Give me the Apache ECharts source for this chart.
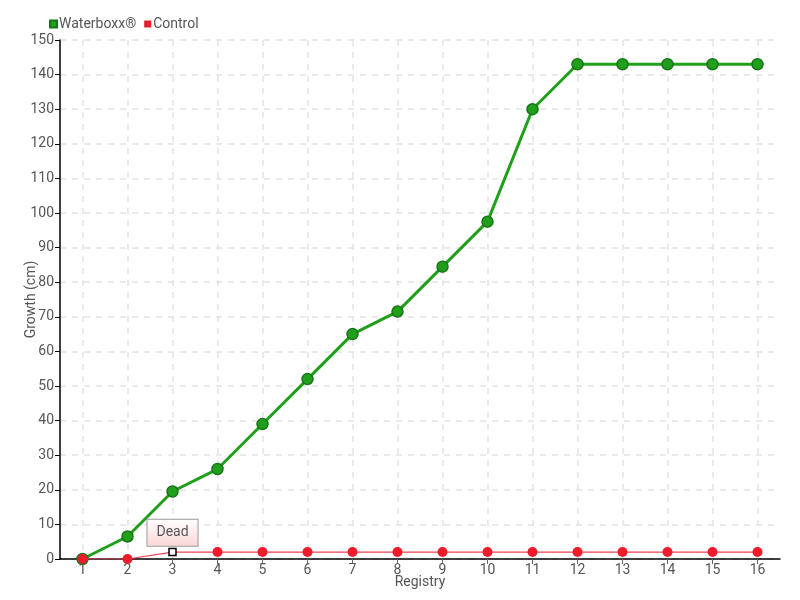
<!DOCTYPE html>
<html><head><meta charset="utf-8">
<script src="https://cdn.jsdelivr.net/npm/echarts@6/dist/echarts.min.js"></script>
<style>html,body{margin:0;padding:0;background:#fff}#c{width:800px;height:600px}</style>
</head><body><div id="c"></div>
<script>
const categories = [1,2,3,4,5,6,7,8,9,10,11,12,13,14,15,16];
const waterboxx = [0,6.5,19.5,26,39,52,65,71.5,84.5,97.5,130,143,143,143,143,143];
const control = [0,0,2,2,2,2,2,2,2,2,2,2,2,2,2,2];
const deadIndex = 2;
const deadLabel = 'Dead';

const FONT = 'Roboto,"Noto Sans",sans-serif';
const chart = echarts.init(document.getElementById('c'));
const wData = categories.map((c,i)=>[c, waterboxx[i]]);
const cData = categories.map((c,i)=>{
  if (i === deadIndex) {
    return {value:[c, control[i]], symbol:'rect', symbolSize:7,
      itemStyle:{color:'#fff', borderColor:'#000', borderWidth:1.5},
      label:{show:true, formatter: deadLabel, position:'top', distance:2,
        color:'#555', fontFamily:FONT, fontSize:14,
        backgroundColor:{type:'linear',x:0,y:0,x2:0,y2:1,colorStops:[{offset:0,color:'#fff'},{offset:1,color:'#fbd6d6'}]},
        borderColor:'#999', borderWidth:1, padding:[6,9,6,9]}};
  }
  return [c, control[i]];
});
chart.setOption({
  animation:false,
  textStyle:{fontFamily:FONT},
  legend:{left:44, top:12, itemWidth:7, itemHeight:7, itemGap:8,
    icon:'rect',
    textStyle:{color:'#555', fontSize:14, fontFamily:FONT, padding:[0,0,0,-3]},
    data:['Waterboxx®','Control']},
  grid:{left:60, right:20, top:40, bottom:41, outerBoundsMode:'none', containLabel:false},
  xAxis:{type:'value', min:0.5, max:16.5,
    name:'Registry', nameLocation:'middle', nameGap:16, nameMoveOverlap:false,
    nameTextStyle:{color:'#555', fontSize:14, fontFamily:FONT},
    axisLine:{show:true, lineStyle:{color:'#000', width:1.5}},
    axisTick:{show:true, customValues:categories, length:5, lineStyle:{color:'#666'}},
    axisLabel:{customValues:categories, color:'#555', fontSize:14, margin:4, fontFamily:FONT},
    splitLine:{show:true, lineStyle:{color:'#e4e4e4', type:[6,6], width:1.5}}},
  yAxis:{type:'value', min:0, max:150, interval:10,
    name:'Growth (cm)', nameLocation:'middle', nameGap:22, nameMoveOverlap:false,
    nameTextStyle:{color:'#555', fontSize:14, fontFamily:FONT},
    axisLine:{show:true, lineStyle:{color:'#000', width:1.5}},
    axisTick:{show:true, length:5, lineStyle:{color:'#000'}},
    axisLabel:{color:'#555', fontSize:14, margin:6, fontFamily:FONT},
    splitLine:{show:true, lineStyle:{color:'#e4e4e4', type:[6,6], width:1.5}}},
  series:[
    {name:'Waterboxx®', type:'line', data:wData, symbol:'circle', symbolSize:11,
      color:'#20a01a',
      lineStyle:{color:'#20a01a', width:3},
      itemStyle:{color:'#20a01a', borderColor:'#17751a', borderWidth:1.5}, z:2},
    {name:'Control', type:'line', data:cData, symbol:'circle', symbolSize:10,
      color:'#ee1c2b',
      lineStyle:{color:'#ee4050', width:1.2},
      itemStyle:{color:'#ee1c2b'}, z:3}
  ]
});
</script></body></html>
